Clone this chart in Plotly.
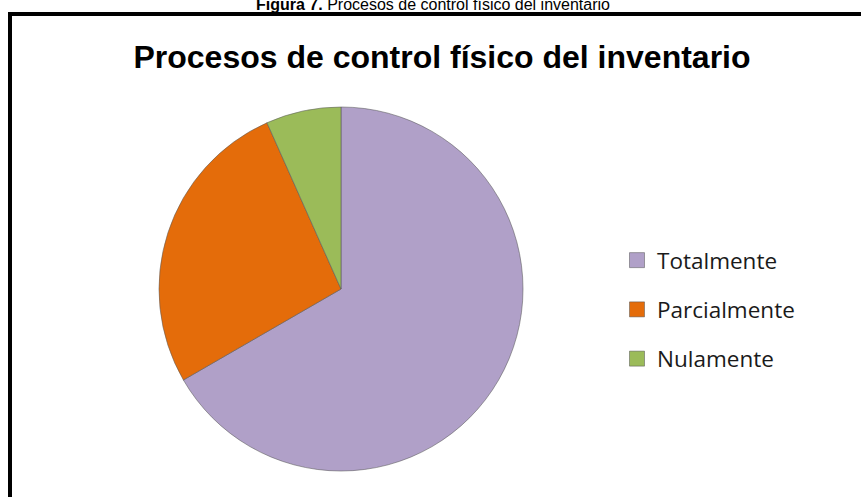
import plotly.graph_objects as go

# Data
labels = ["Totalmente", "Parcialmente", "Nulamente"]
values = [10, 4, 1]
colors = ["#B0A0C8", "#E46C0A", "#9BBB59"]

title_text = "Procesos de control físico del inventario"
caption_text = "<b>Figura 7.</b> Procesos de control físico del inventario"

W, H = 861, 497

def px(x):
    return x / W

def py(y):
    return 1 - y / H

fig = go.Figure()

fig.add_trace(go.Pie(
    labels=labels,
    values=values,
    sort=False,
    direction="clockwise",
    rotation=0,
    marker=dict(colors=colors, line=dict(color="rgba(90,90,90,0.55)", width=1)),
    textinfo="none",
    hoverinfo="label+value+percent",
    showlegend=False,
    domain=dict(x=[px(159), px(523)], y=[py(471), py(107)]),
))

# Legend entries (one per category, drawn with the library's legend)
for i, (lab, col) in enumerate(zip(labels, colors)):
    fig.add_trace(go.Scatter(
        x=[None], y=[None], mode="markers", name=lab,
        legendgroup=f"g{i}",
        marker=dict(symbol="square", size=15, color=col,
                    line=dict(color="rgba(80,80,80,0.5)", width=1)),
        hoverinfo="skip",
    ))

fig.update_layout(
    width=W, height=H,
    margin=dict(l=0, r=0, t=0, b=0),
    paper_bgcolor="white",
    plot_bgcolor="white",
    xaxis=dict(visible=False),
    yaxis=dict(visible=False),
    showlegend=True,
    legend=dict(
        x=px(617), y=py(239), xanchor="left", yanchor="top",
        font=dict(family="Open Sans, Noto Sans, sans-serif", size=22.5, color="#1a1a1a"),
        traceorder="grouped",
        tracegroupgap=17,
        itemsizing="trace",
        bgcolor="rgba(0,0,0,0)",
    ),
    title=dict(
        text=f"<b>{title_text}</b>",
        x=px(442), xanchor="center",
        y=py(57), yanchor="middle",
        font=dict(family="Liberation Sans, Arial, sans-serif", size=32, color="black"),
    ),
    annotations=[dict(
        text=caption_text, xref="paper", yref="paper",
        x=px(433), y=py(15), xanchor="center", yanchor="bottom",
        showarrow=False,
        font=dict(family="Liberation Sans, Arial, sans-serif", size=16, color="black"),
    )],
    shapes=[dict(
        type="rect", xref="paper", yref="paper",
        x0=px(10), y0=py(14), x1=px(880), y1=py(520),
        line=dict(color="black", width=4),
        fillcolor="rgba(0,0,0,0)",
    )],
)

fig.write_html(
    "out.html",
    config={"displayModeBar": False},
    post_script="document.body.style.margin='0';document.body.style.overflow='hidden';",
)
